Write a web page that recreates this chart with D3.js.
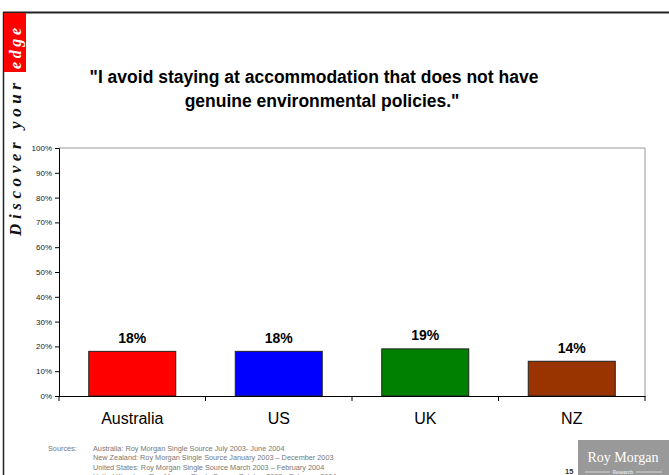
<!DOCTYPE html>
<html>
<head>
<meta charset="utf-8">
<script src="https://cdn.jsdelivr.net/npm/d3@7"></script>
<style>
  html, body { margin: 0; padding: 0; background: #fff; }
  svg { display: block; }
  text { font-family: Arial, "Liberation Sans", sans-serif; }
</style>
</head>
<body>
<svg id="chart" width="669" height="475"></svg>
<script>
// Survey result: share agreeing with the statement, by country
const categories = ["Australia", "US", "UK", "NZ"];
const values = [0.18, 0.18, 0.19, 0.14];
const barColors = ["#ff0000", "#0000ff", "#008000", "#993300"];
const yTicks = [0, 0.1, 0.2, 0.3, 0.4, 0.5, 0.6, 0.7, 0.8, 0.9, 1.0];
const titleLines = [
  "\"I avoid staying at accommodation that does not have",
  "genuine environmental policies.\""
];
const sourceLines = [
  "Australia: Roy Morgan Single Source July 2003- June 2004",
  "New Zealand: Roy Morgan Single Source  January 2003 \u2013 December  2003",
  "United States: Roy Morgan Single Source March 2003 \u2013 February 2004",
  "United Kingdom: Roy Morgan Single Source October 2003 - February 2004"
];

const svg = d3.select("#chart");
const W = 669, H = 475;

// Slide frame
svg.append("line").attr("x1", 3).attr("x2", W).attr("y1", 12.5).attr("y2", 12.5)
  .attr("stroke", "#222").attr("stroke-width", 2);
svg.append("line").attr("x1", 3.5).attr("x2", 3.5).attr("y1", 12).attr("y2", H)
  .attr("stroke", "#222").attr("stroke-width", 1.5);

// Side tagline
svg.append("rect").attr("x", 4).attr("y", 13).attr("width", 22).attr("height", 59).attr("fill", "#ff0000");
svg.append("text")
  .attr("transform", "translate(20.5,69) rotate(-90)")
  .attr("fill", "#fff")
  .style("font-family", "'Liberation Serif', 'DejaVu Serif', serif")
  .style("font-style", "italic").style("font-weight", "bold")
  .style("font-size", "16px").style("letter-spacing", "3.6px")
  .text("edge");
svg.append("text")
  .attr("transform", "translate(21,236) rotate(-90)")
  .attr("fill", "#111")
  .style("font-family", "'Liberation Serif', 'DejaVu Serif', serif")
  .style("font-style", "italic").style("font-weight", "bold")
  .style("font-size", "17px").style("letter-spacing", "4.6px")
  .text("Discover your");

// Title
const titleX = [314, 322];
const titleY = [83, 107];
svg.selectAll("text.title").data(titleLines).join("text")
  .attr("class", "title")
  .attr("x", (d, i) => titleX[i]).attr("y", (d, i) => titleY[i])
  .attr("text-anchor", "middle")
  .style("font-weight", "bold").style("font-size", "17.5px").attr("fill", "#000")
  .text(d => d);

// Plot area
const plot = { left: 59, right: 645, top: 148, bottom: 396 };
const x = d3.scaleBand().domain(categories).range([plot.left, plot.right]).padding(0);
const y = d3.scaleLinear().domain([0, 1]).range([plot.bottom, plot.top]);
const barW = x.bandwidth() * 0.594;

// Plot border (top and right)
svg.append("path")
  .attr("d", `M${plot.left},${plot.top}H${plot.right}V${plot.bottom}`)
  .attr("fill", "none").attr("stroke", "#999").attr("stroke-width", 1);

// Bars
svg.selectAll("rect.bar").data(values).join("rect")
  .attr("class", "bar")
  .attr("x", (d, i) => x(categories[i]) + (x.bandwidth() - barW) / 2)
  .attr("y", d => y(d))
  .attr("width", barW)
  .attr("height", d => y(0) - y(d))
  .attr("fill", (d, i) => barColors[i])
  .attr("stroke", "#222").attr("stroke-width", 1);

// Value labels
svg.selectAll("text.val").data(values).join("text")
  .attr("class", "val")
  .attr("x", (d, i) => x(categories[i]) + x.bandwidth() / 2)
  .attr("y", d => y(d) - 8.5)
  .attr("text-anchor", "middle")
  .style("font-weight", "bold").style("font-size", "14px").attr("fill", "#000")
  .text(d => Math.round(d * 100) + "%");

// Y axis
const yAxis = svg.append("g")
  .attr("transform", `translate(${plot.left},0)`)
  .call(d3.axisLeft(y).tickValues(yTicks).tickSize(4).tickPadding(3)
    .tickFormat(d => Math.round(d * 100) + "%"));
yAxis.select(".domain").attr("stroke", "#000");
yAxis.selectAll(".tick line").attr("stroke", "#000");
yAxis.selectAll(".tick text")
  .style("font-family", "Arial, 'Liberation Sans', sans-serif")
  .style("font-size", "8px").attr("fill", "#222");

// X axis
const xAxis = svg.append("g")
  .attr("transform", `translate(0,${plot.bottom})`)
  .call(d3.axisBottom(x).tickSize(0).tickPadding(17));
xAxis.select(".domain").attr("stroke", "#000");
xAxis.selectAll(".tick text")
  .style("font-family", "Arial, 'Liberation Sans', sans-serif")
  .style("font-size", "16px").attr("fill", "#000");
// Category separators
const bounds = categories.map(c => x(c)).concat([plot.right]);
xAxis.selectAll("line.sep").data(bounds).join("line")
  .attr("class", "sep")
  .attr("x1", d => d).attr("x2", d => d).attr("y1", 0).attr("y2", 5)
  .attr("stroke", "#000");

// Sources footnote
svg.append("text").attr("x", 48).attr("y", 451)
  .style("font-size", "7.3px").attr("fill", "#777").text("Sources:");
svg.selectAll("text.src").data(sourceLines).join("text")
  .attr("class", "src")
  .attr("x", 93).attr("y", (d, i) => 451 + i * 9.3)
  .style("font-size", "7.3px").attr("fill", "#777")
  .text(d => d);

// Page number
svg.append("text").attr("x", 565).attr("y", 474)
  .style("font-size", "7.5px").style("font-weight", "bold").attr("fill", "#333").text("15");

// Logo block
svg.append("rect").attr("x", 578).attr("y", 440).attr("width", 91).attr("height", 35).attr("fill", "#999");
svg.append("text").attr("x", 623).attr("y", 462).attr("text-anchor", "middle")
  .style("font-family", "'Liberation Serif', 'DejaVu Serif', serif")
  .style("font-size", "14px").attr("fill", "#fff").text("Roy Morgan");
svg.append("text").attr("x", 623).attr("y", 473.5).attr("text-anchor", "middle")
  .style("font-size", "4.5px").style("font-weight", "bold").attr("fill", "#e5e5e5").text("Research");
svg.append("line").attr("x1", 585).attr("x2", 610).attr("y1", 472).attr("y2", 472).attr("stroke", "#e5e5e5").attr("stroke-width", 0.8);
svg.append("line").attr("x1", 636).attr("x2", 662).attr("y1", 472).attr("y2", 472).attr("stroke", "#e5e5e5").attr("stroke-width", 0.8);
</script>
</body>
</html>
